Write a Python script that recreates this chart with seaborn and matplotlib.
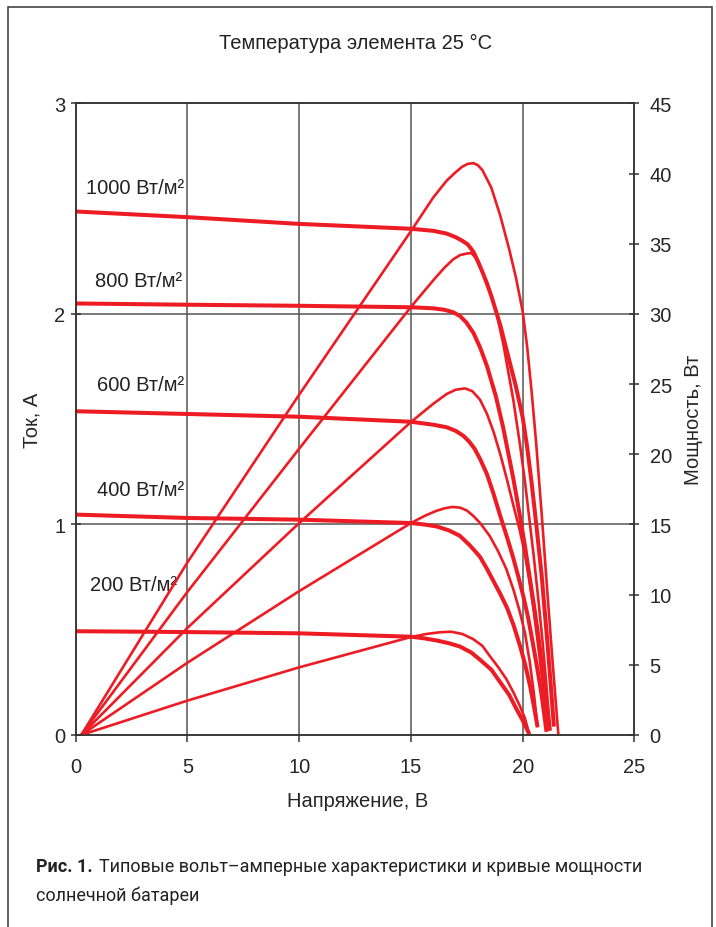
import pandas as pd
import matplotlib
matplotlib.use("Agg")
import matplotlib.pyplot as plt
import seaborn as sns
from matplotlib.patches import Rectangle

# ВАХ (толстые линии): напряжение, В / ток, А
v_iv_1000 = [0, 5, 10, 15, 16.0, 16.6, 17.0, 17.3, 17.55, 17.8, 18.0, 18.2, 18.4, 18.6, 19.0,
             19.4, 19.7, 20.0, 20.2, 20.4, 20.6, 20.85, 21.1, 21.25, 21.4]
i_iv_1000 = [2.487, 2.46, 2.428, 2.405, 2.395, 2.382, 2.365, 2.348, 2.33, 2.295, 2.25, 2.2, 2.145,
             2.085, 1.947, 1.78, 1.655, 1.51, 1.37, 1.2, 1.01, 0.76, 0.45, 0.25, 0.04]

v_iv_800 = [0, 5, 10, 15, 16.0, 16.5, 16.9, 17.2, 17.48, 17.8, 18.1, 18.4, 18.8, 19.13, 19.58,
            19.88, 20.1, 20.3, 20.5, 20.7, 20.9, 21.05, 21.22]
i_iv_800 = [2.05, 2.044, 2.039, 2.032, 2.027, 2.02, 2.008, 1.99, 1.96, 1.91, 1.84, 1.754, 1.61,
            1.46, 1.22, 1.04, 0.9, 0.76, 0.62, 0.47, 0.31, 0.18, 0.02]

v_iv_600 = [0, 5, 10, 15, 16.0, 16.6, 17.0, 17.34, 17.6, 17.85, 18.1, 18.4, 18.7, 19.0, 19.3,
            19.57, 19.8, 20.03, 20.25, 20.45, 20.65, 20.85, 21.07]
i_iv_600 = [1.538, 1.525, 1.512, 1.488, 1.474, 1.462, 1.445, 1.422, 1.395, 1.36, 1.31, 1.24,
            1.145, 1.04, 0.94, 0.845, 0.755, 0.66, 0.555, 0.44, 0.32, 0.19, 0.015]

v_iv_400 = [0, 5, 10, 15, 15.6, 16.14, 16.7, 17.18, 17.6, 17.9, 18.1, 18.4, 18.7, 19.0, 19.3,
            19.6, 19.88, 20.1, 20.33, 20.5, 20.67]
i_iv_400 = [1.047, 1.031, 1.023, 1.007, 1.0, 0.991, 0.972, 0.947, 0.905, 0.87, 0.845, 0.79,
            0.73, 0.67, 0.605, 0.52, 0.424, 0.34, 0.234, 0.14, 0.037]

v_iv_200 = [0, 5, 10, 15, 15.6, 16.2, 16.7, 17.2, 17.7, 18.1, 18.6, 19.0, 19.4, 19.72, 20.0, 20.3]
i_iv_200 = [0.493, 0.489, 0.483, 0.467, 0.459, 0.448, 0.436, 0.42, 0.392, 0.357, 0.31, 0.25,
            0.19, 0.124, 0.07, 0.003]

# кривые мощности (тонкие линии): напряжение, В / мощность, Вт
v_p_1000 = [0.25, 5, 10, 15, 16.0, 16.6, 17.0, 17.3, 17.55, 17.8, 18.0, 18.2, 18.6, 19.0, 19.4,
            19.7, 20.0, 20.2, 20.4, 20.6, 20.85, 21.1, 21.35, 21.6]
p_p_1000 = [0, 12.3, 24.25, 35.9, 38.3, 39.5, 40.1, 40.5, 40.7, 40.75, 40.6, 40.25, 39.0, 37.0,
            34.6, 32.6, 30.2, 27.7, 24.5, 20.9, 15.8, 10.3, 5.0, 0]

v_p_800 = [0.25, 5, 10, 15, 16.0, 16.5, 16.9, 17.2, 17.48, 17.7, 17.9, 18.1, 18.4, 18.8, 19.13,
           19.58, 19.88, 20.1, 20.3, 20.5, 20.7, 20.9, 21.05, 21.22]
p_p_800 = [0, 10.2, 20.4, 30.5, 32.4, 33.3, 33.9, 34.2, 34.3, 34.35, 34.0, 33.3, 32.3, 30.3,
           27.9, 23.9, 20.7, 18.1, 15.4, 12.7, 9.7, 6.5, 3.8, 0.4]

v_p_600 = [0.25, 5, 10, 15, 16.0, 16.6, 17.0, 17.42, 17.75, 18.09, 18.4, 18.7, 19.0, 19.3,
           19.58, 19.87, 20.1, 20.3, 20.5, 20.7, 20.9, 21.07]
p_p_600 = [0, 7.63, 15.1, 22.3, 23.6, 24.3, 24.6, 24.7, 24.5, 23.9, 22.9, 21.6, 20.0, 18.2,
           16.4, 14.6, 12.9, 11.0, 8.8, 6.3, 3.6, 0.3]

v_p_400 = [0.25, 5, 10, 15, 15.6, 16.1, 16.5, 16.85, 17.2, 17.5, 17.78, 18.1, 18.52, 18.9,
           19.27, 19.6, 19.87, 20.1, 20.32, 20.5, 20.67]
p_p_400 = [0, 5.15, 10.25, 15.1, 15.6, 15.95, 16.15, 16.25, 16.2, 16.0, 15.63, 15.1, 14.2,
           13.1, 11.83, 10.3, 8.8, 7.3, 5.2, 3.0, 0.55]

v_p_200 = [0.25, 5, 10, 15, 15.7, 16.3, 16.8, 17.3, 17.78, 18.2, 18.52, 18.9, 19.27, 19.6,
           19.87, 20.1, 20.3]
p_p_200 = [0, 2.45, 4.82, 6.98, 7.2, 7.32, 7.36, 7.2, 6.84, 6.35, 5.65, 4.85, 3.99, 3.0,
           2.09, 1.2, 0.05]

irr_labels = ["1000 Вт/м²", "800 Вт/м²", "600 Вт/м²", "400 Вт/м²", "200 Вт/м²"]
label_v = [4.85, 4.76, 4.85, 4.85, 4.53]
label_i = [2.60, 2.157, 1.667, 1.165, 0.713]

iv_curves = [(v_iv_1000, i_iv_1000), (v_iv_800, i_iv_800), (v_iv_600, i_iv_600),
             (v_iv_400, i_iv_400), (v_iv_200, i_iv_200)]
p_curves = [(v_p_1000, p_p_1000), (v_p_800, p_p_800), (v_p_600, p_p_600),
            (v_p_400, p_p_400), (v_p_200, p_p_200)]

sns.set_style("white")
plt.rcParams["font.family"] = ["Liberation Sans", "DejaVu Sans"]

RED = "#ED1C24"
GRID = "#555555"
FS = 14.5

fig = plt.figure(figsize=(7.16, 9.28), dpi=100)
ax = fig.add_axes([0.1057, 0.2069, 0.7803, 0.6805])
ax2 = ax.twinx()

for v, i in iv_curves:
    sns.lineplot(x=v, y=i, ax=ax, sort=False, estimator=None, color=RED, lw=2.9,
                 solid_capstyle="butt", solid_joinstyle="round")
for v, p in p_curves:
    sns.lineplot(x=v, y=p, ax=ax2, sort=False, estimator=None, color=RED, lw=1.9,
                 solid_capstyle="butt", solid_joinstyle="round")

ax.set_xlim(0, 25)
ax.set_ylim(0, 3)
ax2.set_ylim(0, 45)
ax.set_xticks([0, 5, 10, 15, 20, 25])
ax.set_yticks([0, 1, 2, 3])
ax2.set_yticks(range(0, 46, 5))

for x in [5, 10, 15, 20]:
    ax.axvline(x, color=GRID, lw=1.1, zorder=0)
for y in [1, 2]:
    ax.axhline(y, color=GRID, lw=1.1, zorder=0)

for a in (ax, ax2):
    for s in a.spines.values():
        s.set_color("#333333")
        s.set_linewidth(1.1)
ax.tick_params(axis="y", direction="inout", length=7, width=1.1, color="#333333",
               labelsize=FS, pad=4, left=True)
ax.tick_params(axis="x", direction="out", length=5, width=1.1, color="#333333",
               labelsize=FS, pad=11, bottom=True)
ax2.tick_params(axis="y", direction="inout", length=7, width=1.1, color="#333333",
                labelsize=FS, pad=7.5, right=True)

ax.set_xlabel("Напряжение, В", fontsize=FS)
ax.set_ylabel("Ток, А", fontsize=FS)
ax2.set_ylabel("Мощность, Вт", fontsize=FS)
ax.xaxis.set_label_coords(0.505, -0.089)
ax.yaxis.set_label_coords(-0.062, 0.5)
ax2.yaxis.set_label_coords(1.089, 0.5)

for txt, xv, yi in zip(irr_labels, label_v, label_i):
    ax.text(xv, yi, txt, ha="right", va="center", fontsize=FS, color="#222222",
            zorder=5)

fig.text(0.497, 1 - 43 / 928, "Температура элемента 25 °C", ha="center",
         va="center", fontsize=FS, color="#222222")

# рамка вокруг рисунка
fig.patches.append(Rectangle((8 / 716, -0.01), 704 / 716, 1 - 8 / 928 + 0.01,
                             transform=fig.transFigure, fill=False,
                             edgecolor="#444444", lw=1.2))

# подпись
cap_family = ["Roboto", "DejaVu Sans"]
t1 = fig.text(36 / 716, 1 - 867 / 928, "Рис. 1.", ha="left", va="center",
              fontsize=13, fontweight="bold", family=cap_family, color="#222222")
fig.canvas.draw()
bb = t1.get_window_extent()
fig.text((bb.x1 + 6) / 716, 1 - 867 / 928,
         "Типовые вольт–амперные характеристики и кривые мощности",
         ha="left", va="center", fontsize=13, family=cap_family, color="#222222")
fig.text(36 / 716, 1 - 896 / 928, "солнечной батареи", ha="left", va="center",
         fontsize=13, family=cap_family, color="#222222")

fig.savefig("out.png", dpi=100)
